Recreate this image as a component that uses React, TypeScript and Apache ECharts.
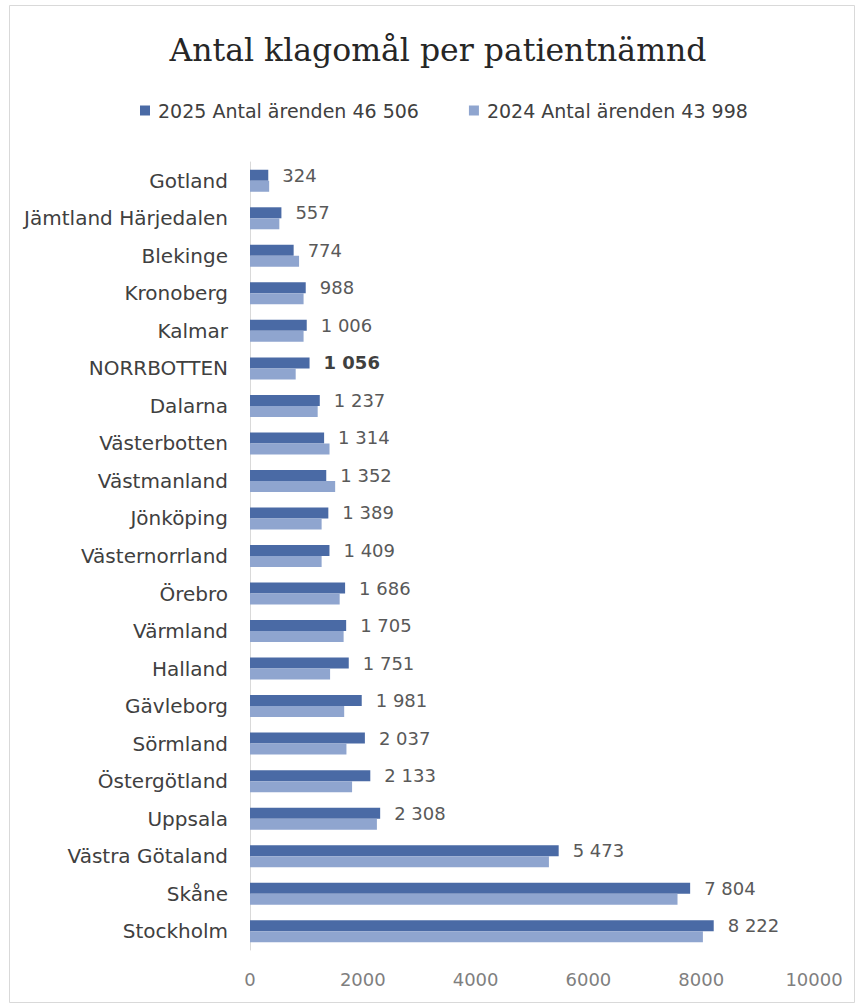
import React, { useEffect, useRef } from "react";
import * as echarts from "echarts";

const categories = [
  "Gotland",
  "Jämtland Härjedalen",
  "Blekinge",
  "Kronoberg",
  "Kalmar",
  "NORRBOTTEN",
  "Dalarna",
  "Västerbotten",
  "Västmanland",
  "Jönköping",
  "Västernorrland",
  "Örebro",
  "Värmland",
  "Halland",
  "Gävleborg",
  "Sörmland",
  "Östergötland",
  "Uppsala",
  "Västra Götaland",
  "Skåne",
  "Stockholm",
];

const values2025 = [
  324, 557, 774, 988, 1006, 1056, 1237, 1314, 1352, 1389, 1409, 1686, 1705, 1751, 1981, 2037, 2133, 2308, 5473, 7804, 8222,
];

const values2024 = [
  340, 520, 870, 950, 950, 810, 1200, 1410, 1510, 1270, 1270, 1590, 1660, 1420, 1670, 1710, 1810, 2250, 5300, 7580, 8030,
];

const seriesNames = ["2025 Antal ärenden 46 506", "2024 Antal ärenden 43 998"];
const boldCategory = "NORRBOTTEN";
const titleText = "Antal klagomål per patientnämnd";
const xTicks = [0, 2000, 4000, 6000, 8000, 10000];

const fmt = (v: number) => {
  const s = String(Math.round(v));
  return s.replace(/\B(?=(\d{3})+(?!\d))/g, " ");
};

export default function App() {
  const ref = useRef<HTMLDivElement>(null);
  useEffect(() => {
    if (!ref.current) return;
    const chart = echarts.init(ref.current, undefined, { renderer: "svg" });
    const sans = "DejaVu Sans";
    chart.setOption({
      animation: false,
      backgroundColor: "#ffffff",
      graphic: [
        {
          type: "rect",
          shape: { x: 9.5, y: 5.5, width: 845, height: 997 },
          style: { fill: "none", stroke: "#d9d9d9", lineWidth: 1 },
          silent: true,
        },
        {
          type: "text",
          x: 438,
          y: 50,
          style: {
            text: titleText,
            font: '31.5px "DejaVu Serif"',
            fill: "#262626",
            align: "center",
            verticalAlign: "middle",
          },
        },
      ],
      legend: {
        left: 140,
        top: 101,
        padding: 0,
        itemWidth: 10,
        itemHeight: 10,
        itemGap: 50,
        icon: "rect",
        textStyle: { fontFamily: sans, fontSize: 19, color: "#404040", padding: [0, 0, 0, 3] },
        data: seriesNames,
      },
      grid: { left: 250, right: 46, top: 162, bottom: 58, containLabel: false },
      xAxis: {
        type: "value",
        min: xTicks[0],
        max: xTicks[xTicks.length - 1],
        interval: 2000,
        axisLine: { show: false },
        axisTick: { show: false },
        splitLine: { show: false },
        axisLabel: {
          fontFamily: sans,
          fontSize: 18,
          color: "#7f7f7f",
          margin: 20,
          formatter: (v: number) => String(v),
        },
      },
      yAxis: {
        type: "category",
        data: categories,
        inverse: true,
        axisLine: { show: true, lineStyle: { color: "#d9d9d9", width: 1 } },
        axisTick: { show: false },
        axisLabel: { fontFamily: sans, fontSize: 20, color: "#404040", margin: 22 },
      },
      series: [
        {
          name: seriesNames[0],
          type: "bar",
          barWidth: 11,
          barGap: "0%",
          itemStyle: { color: "#4a6aa5" },
          data: values2025.map((v, i) =>
            categories[i] === boldCategory ? { value: v, label: { fontWeight: "bold", color: "#404040" } } : v
          ),
          label: {
            show: true,
            position: "right",
            distance: 14,
            fontFamily: sans,
            fontSize: 18,
            color: "#595959",
            formatter: (p: any) => fmt(p.value),
          },
        },
        {
          name: seriesNames[1],
          type: "bar",
          barWidth: 11,
          barGap: "0%",
          itemStyle: { color: "#8fa5cf" },
          data: values2024,
        },
      ],
    });
    return () => chart.dispose();
  }, []);
  return (
    <div style={{ position: "absolute", left: 0, top: 0, width: 860, height: 1008 }}>
      <div ref={ref} style={{ width: 860, height: 1008 }} />
    </div>
  );
}
